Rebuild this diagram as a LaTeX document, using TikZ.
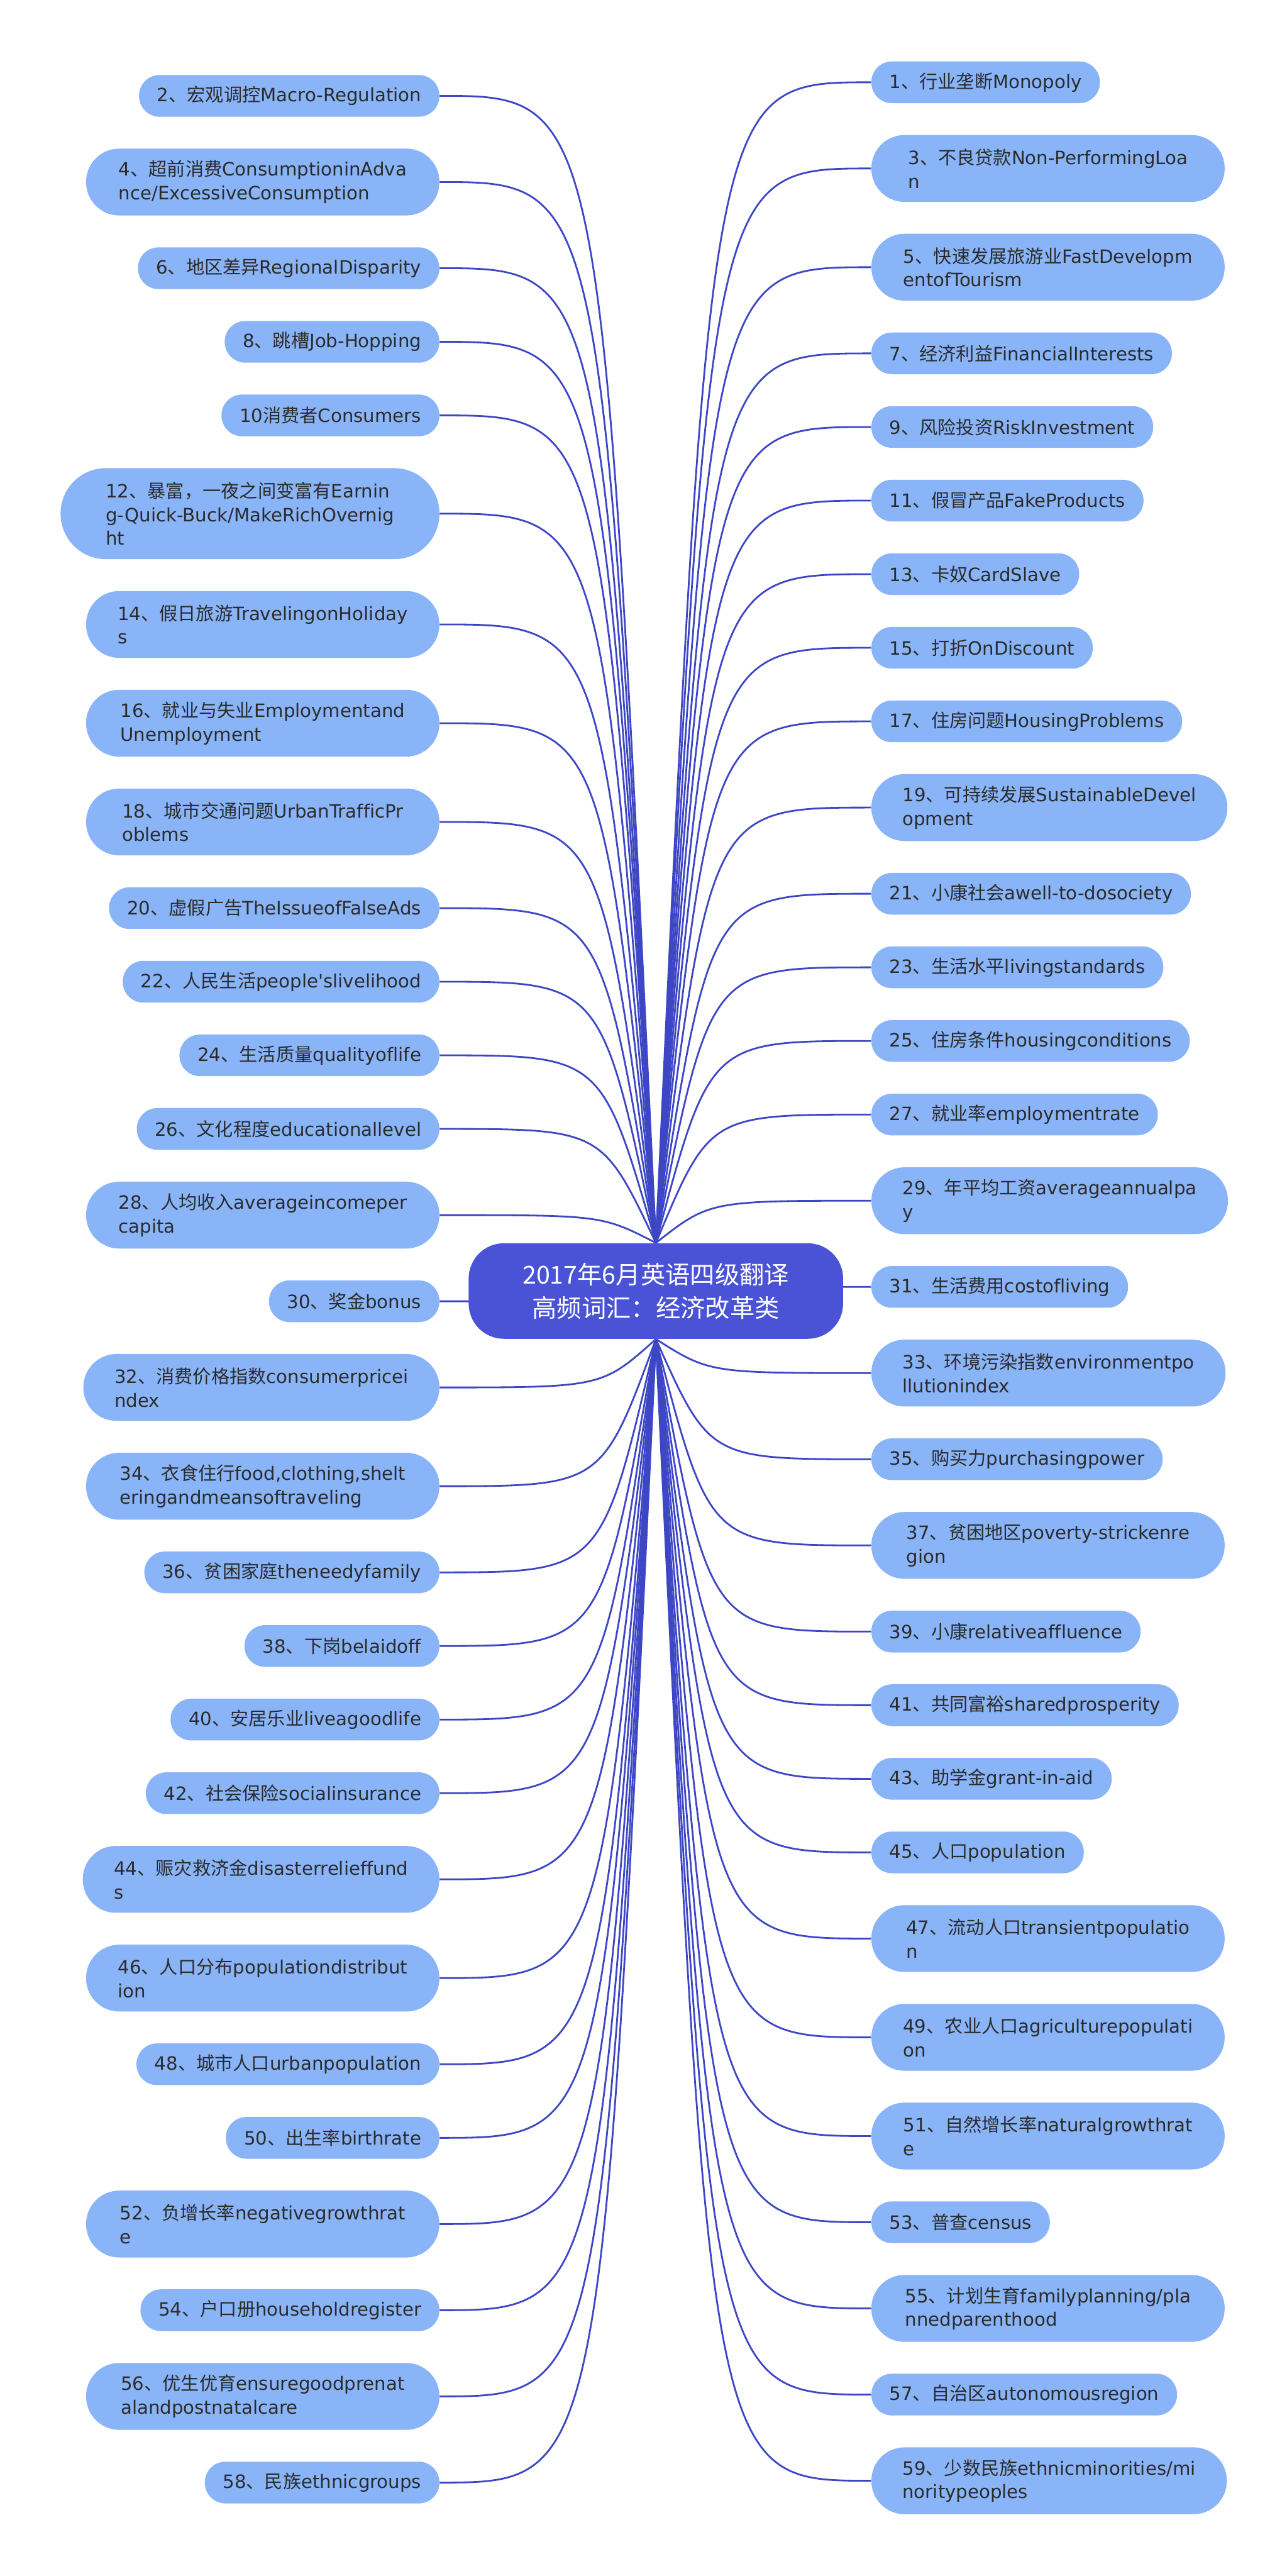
\documentclass[tikz,border=0pt]{standalone}
\usepackage{fontspec}
\setmainfont{DejaVu Sans}[Ligatures={NoCommon}]
\newfontfamily\cjk{Noto Sans CJK SC}
\usetikzlibrary{positioning,calc,backgrounds}
\definecolor{leafblue}{HTML}{8AB4F8}
\definecolor{hubblue}{HTML}{4A52D6}
\definecolor{linkblue}{HTML}{3D46C4}
\definecolor{leaftext}{HTML}{2B2B2B}
\newcommand{\zh}[1]{{\cjk #1}}
\newcommand{\leaffont}{\fontsize{10.4pt}{13.4pt}\selectfont}
\newcommand{\hubfont}{\fontsize{14pt}{19pt}\selectfont\cjk}

\begin{document}
\begin{tikzpicture}[
  x=1mm, y=1mm,
  node distance=6.2mm,
  leaf/.style={rectangle, rounded corners=4.1mm, fill=leafblue, text=leaftext, inner xsep=3.6mm, inner ysep=0mm, minimum height=8.3mm, align=left, font=\leaffont},
  leafwide/.style={leaf, rounded corners=6.6mm, inner xsep=6.2mm, minimum height=13.3mm, minimum width=70.3mm},
  leaftall/.style={leaf, rounded corners=9mm, inner xsep=9mm, minimum height=18.1mm, minimum width=75.3mm},
  lnext/.style={below=of #1.south east, anchor=north east},
  rnext/.style={below=of #1.south west, anchor=north west},
  hub/.style={fill=hubblue, text=white, rounded corners=7mm, minimum width=74.5mm, minimum height=19mm, align=center, font=\hubfont},
  link/.style={draw=linkblue, line width=1pt}
]
\useasboundingbox (0,0) rectangle (256,-512.4);
\node[hub] (hub) at (130.5,-256.8) {2017年6月英语四级翻译\\高频词汇：经济改革类};

% left branch
\node[leaf, anchor=north east] (n2) at (87.5,-14.85) {2\zh{、宏观调控}Macro-Regulation};
\node[leafwide, lnext=n2] (n4) {4\zh{、超前消费}ConsumptioninAdva\\nce/ExcessiveConsumption};
\node[leaf, lnext=n4] (n6) {6\zh{、地区差异}RegionalDisparity};
\node[leaf, lnext=n6] (n8) {8\zh{、跳槽}Job-Hopping};
\node[leaf, lnext=n8] (n10) {10\zh{消费者}Consumers};
\node[leaftall, lnext=n10] (n12) {12\zh{、暴富，一夜之间变富有}Earnin\\g-Quick-Buck/MakeRichOvernig\\ht};
\node[leafwide, lnext=n12] (n14) {14\zh{、假日旅游}TravelingonHoliday\\s};
\node[leafwide, lnext=n14] (n16) {16\zh{、就业与失业}Employmentand\\Unemployment};
\node[leafwide, lnext=n16] (n18) {18\zh{、城市交通问题}UrbanTrafficPr\\oblems};
\node[leaf, lnext=n18] (n20) {20\zh{、虚假广告}TheIssueofFalseAds};
\node[leaf, lnext=n20] (n22) {22\zh{、人民生活}people\textquotesingle slivelihood};
\node[leaf, lnext=n22] (n24) {24\zh{、生活质量}qualityoflife};
\node[leaf, lnext=n24] (n26) {26\zh{、文化程度}educationallevel};
\node[leafwide, lnext=n26] (n28) {28\zh{、人均收入}averageincomeper\\capita};
\node[leaf, lnext=n28] (n30) {30\zh{、奖金}bonus};
\node[leafwide, lnext=n30] (n32) {32\zh{、消费价格指数}consumerpricei\\ndex};
\node[leafwide, lnext=n32] (n34) {34\zh{、衣食住行}food,clothing,shelt\\eringandmeansoftraveling};
\node[leaf, lnext=n34] (n36) {36\zh{、贫困家庭}theneedyfamily};
\node[leaf, lnext=n36] (n38) {38\zh{、下岗}belaidoff};
\node[leaf, lnext=n38] (n40) {40\zh{、安居乐业}liveagoodlife};
\node[leaf, lnext=n40] (n42) {42\zh{、社会保险}socialinsurance};
\node[leafwide, lnext=n42] (n44) {44\zh{、赈灾救济金}disasterrelieffund\\s};
\node[leafwide, lnext=n44] (n46) {46\zh{、人口分布}populationdistribut\\ion};
\node[leaf, lnext=n46] (n48) {48\zh{、城市人口}urbanpopulation};
\node[leaf, lnext=n48] (n50) {50\zh{、出生率}birthrate};
\node[leafwide, lnext=n50] (n52) {52\zh{、负增长率}negativegrowthrat\\e};
\node[leaf, lnext=n52] (n54) {54\zh{、户口册}householdregister};
\node[leafwide, lnext=n54] (n56) {56\zh{、优生优育}ensuregoodprenat\\alandpostnatalcare};
\node[leaf, lnext=n56] (n58) {58\zh{、民族}ethnicgroups};

% right branch
\node[leaf, anchor=north west] (n1) at (173.3,-12.15) {1\zh{、行业垄断}Monopoly};
\node[leafwide, rnext=n1] (n3) {3\zh{、不良贷款}Non-PerformingLoa\\n};
\node[leafwide, rnext=n3] (n5) {5\zh{、快速发展旅游业}FastDevelopm\\entofTourism};
\node[leaf, rnext=n5] (n7) {7\zh{、经济利益}FinancialInterests};
\node[leaf, rnext=n7] (n9) {9\zh{、风险投资}RiskInvestment};
\node[leaf, rnext=n9] (n11) {11\zh{、假冒产品}FakeProducts};
\node[leaf, rnext=n11] (n13) {13\zh{、卡奴}CardSlave};
\node[leaf, rnext=n13] (n15) {15\zh{、打折}OnDiscount};
\node[leaf, rnext=n15] (n17) {17\zh{、住房问题}HousingProblems};
\node[leafwide, rnext=n17] (n19) {19\zh{、可持续发展}SustainableDevel\\opment};
\node[leaf, rnext=n19] (n21) {21\zh{、小康社会}awell-to-dosociety};
\node[leaf, rnext=n21] (n23) {23\zh{、生活水平}livingstandards};
\node[leaf, rnext=n23] (n25) {25\zh{、住房条件}housingconditions};
\node[leaf, rnext=n25] (n27) {27\zh{、就业率}employmentrate};
\node[leafwide, rnext=n27] (n29) {29\zh{、年平均工资}averageannualpa\\y};
\node[leaf, rnext=n29] (n31) {31\zh{、生活费用}costofliving};
\node[leafwide, rnext=n31] (n33) {33\zh{、环境污染指数}environmentpo\\llutionindex};
\node[leaf, rnext=n33] (n35) {35\zh{、购买力}purchasingpower};
\node[leafwide, rnext=n35] (n37) {37\zh{、贫困地区}poverty-strickenre\\gion};
\node[leaf, rnext=n37] (n39) {39\zh{、小康}relativeaffluence};
\node[leaf, rnext=n39] (n41) {41\zh{、共同富裕}sharedprosperity};
\node[leaf, rnext=n41] (n43) {43\zh{、助学金}grant-in-aid};
\node[leaf, rnext=n43] (n45) {45\zh{、人口}population};
\node[leafwide, rnext=n45] (n47) {47\zh{、流动人口}transientpopulatio\\n};
\node[leafwide, rnext=n47] (n49) {49\zh{、农业人口}agriculturepopulati\\on};
\node[leafwide, rnext=n49] (n51) {51\zh{、自然增长率}naturalgrowthrat\\e};
\node[leaf, rnext=n51] (n53) {53\zh{、普查}census};
\node[leafwide, rnext=n53] (n55) {55\zh{、计划生育}familyplanning/pla\\nnedparenthood};
\node[leaf, rnext=n55] (n57) {57\zh{、自治区}autonomousregion};
\node[leafwide, rnext=n57] (n59) {59\zh{、少数民族}ethnicminorities/mi\\noritypeoples};

% connectors, behind the hub
\begin{scope}[on background layer]
\foreach \k in {2,4,...,28}
  \draw[link] let \p1=(hub.north), \p2=(n\k.east) in (\p1) .. controls ({\x1+0.25*(\x2-\x1)},\y2) .. (\p2);
\foreach \k in {30,32,...,58}
  \draw[link] let \p1=(hub.south), \p2=(n\k.east) in (\p1) .. controls ({\x1+0.25*(\x2-\x1)},\y2) .. (\p2);
\foreach \k in {1,3,...,31}
  \draw[link] let \p1=(hub.north), \p2=(n\k.west) in (\p1) .. controls ({\x1+0.25*(\x2-\x1)},\y2) .. (\p2);
\foreach \k in {33,35,...,59}
  \draw[link] let \p1=(hub.south), \p2=(n\k.west) in (\p1) .. controls ({\x1+0.25*(\x2-\x1)},\y2) .. (\p2);
\end{scope}
\end{tikzpicture}
\end{document}
